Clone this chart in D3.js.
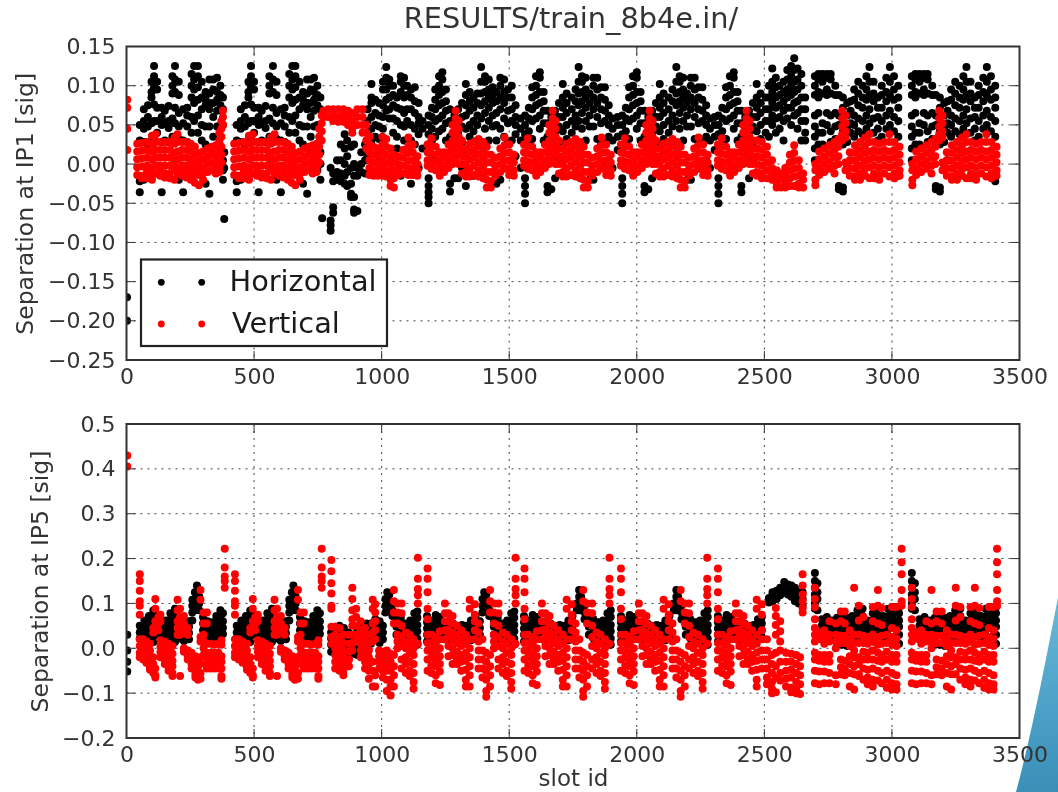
<!DOCTYPE html>
<html>
<head>
<meta charset="utf-8">
<script src="https://cdnjs.cloudflare.com/ajax/libs/d3/7.8.5/d3.min.js"></script>
<style>
html, body { margin: 0; padding: 0; background: #fff; }
svg { display: block; filter: blur(0.6px); }
text { font-family: "DejaVu Sans", sans-serif; fill: #333; }
.grid line { stroke: #444; stroke-width: 1; stroke-dasharray: 2 5; }
.tick-mark { stroke: #333; stroke-width: 1; }
.frame { fill: none; stroke: #333; stroke-width: 2; }
</style>
</head>
<body>
<svg width="1058" height="792"></svg>
<script>
var titleText = "RESULTS/train_8b4e.in/";
var xLabelText = "slot id";
var seriesNames = ["Horizontal", "Vertical"];
var seriesColors = ["#000000", "#ff0000"];

var xTicks = [0, 500, 1000, 1500, 2000, 2500, 3000, 3500];
var ip1Ticks = [0.15, 0.10, 0.05, 0.00, -0.05, -0.10, -0.15, -0.20, -0.25];
var ip5Ticks = [0.5, 0.4, 0.3, 0.2, 0.1, 0.0, -0.1, -0.2];

// each row: slot id, then the separations read at that slot (in 0.001 sig)
var ip1Horizontal = [
  [2,-170,-200],
  [52,50,30,-15,-22,-36],[68,70,55,45,28,-20],[84,75,60,48,25],[98,105,92,85,52,30,-18],[108,125,112,98,76,55,35],[120,105,95,72,55,40],
  [138,60,50,72,28,-36],[150,68,52,30,-15],[165,74,55,46,28],[180,112,100,90,58,35],[190,125,108,92,72,52],[205,105,88,65,48,32,-20],
  [222,70,52,30,-36],[238,62,48,72,28,-10],[255,115,100,85,60,40],[265,125,108,95,78,55],[280,125,112,98,82,62,40],[295,105,85,70,50,30],
  [310,82,92,75,48,25,-25],[325,108,90,78,70,48,20,-38],[340,108,95,78,60,35],[355,110,92,82,68,48,5],[368,100,88,75,50,-5,-8],[378,85,70,50,5,-8,-20],[383,-70,15,-5],
  [432,50,30,-15,-22,-36],[448,70,55,45,28,-20],[464,75,60,48,25],[478,105,92,85,52,30,-18],[488,125,112,98,76,55,35],[500,105,95,72,55,40],
  [518,60,50,72,28,-36],[530,68,52,30,-15],[545,74,55,46,28],[560,112,100,90,58,35],[574,125,108,92,72,52],[588,105,88,65,48,32,-20],
  [605,70,52,30,-36],[620,62,48,72,28,-10],[638,115,100,85,60,40],[650,125,108,95,78,55],[662,125,112,98,82,62,40],[678,105,85,70,50,30],
  [692,82,92,75,48,25,-25],[708,108,90,78,70,48,20,-38],[722,108,95,78,60,35],[735,110,92,82,68,48,5],[748,100,88,75,50,-5,-8],[760,85,70,15,0,-20],
  [767,-69],[800,-85,-78,-72,-5],[810,-55,-62,-12,-22],[825,5,-10,-20],[840,25,5,-12,-22],[855,38,20,0,-15,-25],[865,30,10,-10,-28],[880,22,-5,-25,-38,-42],
  [892,25,0,-15,-42,-58,-62],[905,-5,-15,-60],[920,15,0,-10],[935,25,5,-12],
  [945,70,55,40,25,10],[960,102,85,78,60,45,30],[975,82,65,50,35],[990,78,62,48,32,15],[1005,105,95,75,60,45],[1018,124,110,95,82,68],[1030,108,100,85,70,58],
  [1045,100,88,75,58,40],[1060,85,72,55,35,20],[1075,112,105,92,70,50,-15],[1088,110,100,85,65,48,30],[1100,100,88,70,55,30],[1115,95,85,70,50,30,15,-25],
  [1130,98,80,65,45,25,5],[1145,78,60,52,38,-5],[1160,55,45,20],
  [1184,62,50,38,25,-18,-28,-36,-42,-50],[1197,72,60,45,30,10],[1210,95,82,70,55,35],[1225,112,100,88,75,58,42],[1238,117,108,92,78,62,45],[1252,95,80,68,52,30],
  [1268,70,55,35,-25,-35],[1285,62,50,28,-18],[1300,70,55,40,22,-18],[1315,78,60,48,28,-5],[1330,102,88,75,62,45,18,-28],[1345,92,80,68,50,35],[1360,85,72,55,42,-15],
  [1375,90,78,62,50,30],[1390,124,105,90,75,58],[1405,112,105,92,80,65,45],[1420,108,95,85,72,55,30],[1435,98,88,78,62,48],[1450,92,80,65,50,30,-25],
  [1465,110,100,85,70,45,-20],[1480,108,92,78,58,35],[1495,95,85,68,52,28],[1510,100,85,70,55,30],[1525,75,60,50,38,10],[1545,58,45,30,-5],
  [1562,62,50,38,-18,-28,-38,-50],[1577,72,58,42,28],[1590,98,85,70,55,32],[1605,112,100,88,75,58],[1620,117,110,92,78,62,45],[1635,92,80,68,52,30],
  [1650,68,52,35,-28,-36],[1665,60,48,25,-32],[1680,68,55,40,20,-18],[1695,78,60,48,28,5],[1710,102,85,72,60,42,20],[1725,90,78,65,50,32],[1745,85,70,55,40],
  [1760,95,80,62,48,25],[1772,124,105,90,75,55],[1785,112,105,92,80,65,45],[1800,110,95,85,72,55,30],[1815,90,78,62,48,-20],[1830,110,100,85,70,48,-20],
  [1845,110,95,78,60,32],[1860,98,85,70,52,25],[1875,98,82,68,55,28,-5],[1890,75,62,50,35,5],[1905,58,45,30,-5],[1925,60,50,35,18],
  [1943,62,50,38,-18,-28,-38,-50],[1957,72,58,42,28],[1970,98,85,70,55,32],[1985,112,100,88,75,58],[2000,117,110,92,78,62,45],[2015,92,80,68,52,30],
  [2030,68,52,35,-28,-36],[2045,60,48,25,-32],[2060,68,55,40,20,-18],[2075,78,60,48,28,5],[2090,102,85,72,60,42,20],[2105,90,78,65,50,32],[2125,85,70,55,40],
  [2140,95,80,62,48,25],[2155,124,105,90,75,55],[2168,112,105,92,80,65,45],[2182,110,95,85,72,55,30],[2197,90,78,62,48,-20],[2212,110,100,85,70,48,-20],
  [2227,110,95,78,60,32],[2242,98,85,70,52,25],[2257,98,82,68,55,28,-5],[2272,75,62,50,35,5],[2287,58,45,30,-5],[2305,60,50,35,18],
  [2320,62,50,38,-18,-28,-38,-50],[2335,72,58,42,28],[2350,98,85,70,55,32],[2365,112,100,88,75,58],[2380,117,110,92,78,62,45],[2395,92,80,68,52,30],
  [2410,68,52,35,-28,-36],[2425,60,48,25],[2440,68,55,40,20,-18],[2455,78,60,48,28,5],[2470,102,85,72,60,42,20],[2485,90,78,65,50,32],
  [2505,85,70,55,40],[2518,100,85,70,55,35],[2531,122,105,92,78,62,50],[2545,110,98,85,72,58,40],[2560,100,88,75,60,45],[2575,105,92,80,68,55,30],[2590,120,108,95,85,72,58],
  [2605,125,112,100,88,72,50],[2617,135,120,105,92,78,62],[2630,122,108,95,80,65,45],[2645,115,100,85,70,55,30],[2660,85,70,55,40,30],
  [2698,112,100,88,62,48,35,20,5],[2712,115,108,92,85,65,40,25],[2728,115,105,90,52,40,25,-10],[2745,115,110,95,88,65,50],[2760,115,108,90,62,42,28],[2778,100,88,65,48,32],[2792,88,62,50,28,-28,-32],
  [2808,85,72,42,25,-30,-35],[2825,78,62,45,28,-5],[2838,80,68,52,40,5],[2852,95,82,62,50,35],[2868,105,90,75,58,42],[2885,100,85,72,55,38],[2900,112,95,82,62,45],
  [2912,124,105,88,70,52],[2928,105,90,80,58,40],[2945,85,72,60,45,30],[2960,100,88,72,55,35],[2978,110,92,80,62,45],[2992,124,105,88,68,50],[3008,112,95,82,60,42],[3025,100,85,72,55,35,-15],
  [3078,112,100,88,62,48,35,20,5],[3092,115,108,92,85,65,40,25],[3108,115,105,90,52,40,25,-10],[3125,115,110,95,88,65,50],[3140,115,108,90,62,42,28],[3158,100,88,65,48,32],[3172,88,62,50,28,-28,-32],
  [3188,85,72,42,25,-30,-35],[3205,78,62,45,28,-5],[3218,80,68,52,40,5],[3232,95,82,62,50,35],[3248,105,90,75,58,42],[3265,100,85,72,55,38],[3280,112,95,82,62,45],
  [3292,124,105,88,70,52],[3308,105,90,80,58,40],[3325,85,72,60,45,30],[3340,100,88,72,55,35],[3358,110,92,80,62,45],[3372,124,105,88,68,50],[3388,112,95,82,60,42],[3405,100,85,72,55,35,-22]
];

var ip1Vertical = [
  [3,82,72,45,18],
  [42,26,16,6,-4,-14],[60,27,17,7,-3,-15,-18],[80,28,18,8,-2,-10,-18],[100,36,26,16,6,-4,-12,-20],[115,38,28,18,8,-2,-12],[132,28,18,8,-2,-10,-15],[150,28,18,8,-2,-12,-17],
  [170,28,18,8,-2,-12,-18],[188,34,26,14,4,-6,-20],[200,38,28,16,6,-4,-12],[218,28,18,8,-2,-10,-15],[235,28,18,8,-2,-12,-17],[252,26,16,6,-4,-12,-20],[268,22,12,2,-8,-14,-24],
  [284,14,4,-6,-14,-27],[300,16,6,-4,-12,-20],[318,20,10,0,-10],[335,22,12,2,-8],[350,24,14,4,-6,-12],[364,40,30,26,16,6,-4,-10],[372,55,45,35,22,12,2],[378,68,60,50],
  [422,26,16,6,-4,-14],[440,27,17,7,-3,-15,-18],[460,28,18,8,-2,-10,-18],[480,36,26,16,6,-4,-12,-20],[495,38,28,18,8,-2,-12],[512,28,18,8,-2,-10,-15],[530,28,18,8,-2,-12,-17],
  [550,28,18,8,-2,-12,-18],[566,34,26,14,4,-6,-20],[580,38,28,16,6,-4,-12],[598,28,18,8,-2,-10,-15],[615,28,18,8,-2,-12,-17],[632,26,16,6,-4,-12,-20],[648,22,12,2,-8,-14,-24],
  [662,14,4,-6,-14,-27],[680,16,6,-4,-12,-20],[698,20,10,0,-10],[715,22,12,2,-8],[730,24,14,4,-6,-12],[745,26,16,6,-4,-10],[755,45,35,22,12,2],[765,62,52,42,30],[772,68,60],
  [790,70,60],[810,70,62,55],[830,70,60,54],[850,70,62,54],[868,68,60,50],[885,65,55,45,40],[905,70,60,50],[925,70,60,50,40],[940,50,40,30,20],[952,35,25,15,5,-5,-14],
  [968,22,12,2,-8,-15],[985,20,10,0,-8,-15],[1003,35,25,15,5,-5,-15],[1018,32,22,12,2,-8,-16],[1035,20,10,0,-10,-20,-28],[1048,12,2,-8,-18,-30],[1065,10,0,-8,-14],[1085,18,8,-2,-12],
  [1105,34,24,14,4,-6,-14],[1122,25,15,5,-5,-14],[1140,10,0,-8,-15],
  [1180,25,15,5,-2],[1195,33,23,13,3,-6],[1212,22,12,2,-8],[1228,15,5,-5,-12,-15],[1245,15,8,-2,-10],[1262,25,15,5,-5],[1278,50,40,30,20,10,0],[1290,68,58,48,38,28,18,8],[1302,55,45,35,25,15,0],
  [1315,30,20,10,0,-12],[1330,20,10,0,-10,-16],[1345,26,16,6,-6,-16],[1362,28,18,8,-2,-14],[1380,32,22,12,2,-8,-16],[1398,28,18,8,-2,-12,-18],[1412,22,12,2,-10,-20,-30],[1428,12,2,-10,-22,-30],
  [1445,8,-2,-10,-15],[1465,20,10,0,-10],[1482,34,24,14,4,-6],[1500,25,15,5,-5,-14],[1518,12,2,-8,-15],
  [1558,25,15,5,-2],[1573,33,23,13,3,-6],[1590,22,12,2,-8],[1606,15,5,-5,-12,-15],[1622,15,8,-2,-10],[1640,25,15,5,-5],[1657,50,40,30,20,10,0],[1670,68,58,48,38,28,18,8],[1682,55,45,35,25,15,0],
  [1695,30,20,10,0,-12],[1710,20,10,0,-10,-16],[1725,26,16,6,-6,-16],[1742,28,18,8,-2,-14],[1760,32,22,12,2,-8,-16],[1778,28,18,8,-2,-12,-18],[1792,22,12,2,-10,-20,-30],[1808,12,2,-10,-22,-30],
  [1825,8,-2,-10,-15],[1845,20,10,0,-10],[1862,34,24,14,4,-6],[1880,25,15,5,-5,-14],[1898,12,2,-8,-15],
  [1938,25,15,5,-2],[1953,33,23,13,3,-6],[1970,22,12,2,-8],[1986,15,5,-5,-12,-15],[2002,15,8,-2,-10],[2020,25,15,5,-5],[2037,50,40,30,20,10,0],[2050,68,58,48,38,28,18,8],[2062,55,45,35,25,15,0],
  [2075,30,20,10,0,-12],[2090,20,10,0,-10,-16],[2105,26,16,6,-6,-16],[2122,28,18,8,-2,-14],[2140,32,22,12,2,-8,-16],[2158,28,18,8,-2,-12,-18],[2172,22,12,2,-10,-20,-30],[2188,12,2,-10,-22,-30],
  [2205,8,-2,-10,-15],[2225,20,10,0,-10],[2242,34,24,14,4,-6],[2260,25,15,5,-5,-14],[2278,12,2,-8,-15],
  [2318,25,15,5,-2],[2333,33,23,13,3,-6],[2350,22,12,2,-8],[2366,15,5,-5,-12,-15],[2382,15,8,-2,-10],[2400,25,15,5,-5],[2417,50,40,30,20,10,0],[2430,68,58,48,38,28,18,8],[2442,55,45,35,25,15,0],
  [2455,30,20,10,0,-12],[2470,30,20,10,0,-10,-15],[2490,28,18,8,-2,-12,-18],[2510,22,12,2,-8,-18],[2530,5,-5,-15,-20],[2548,-8,-16,-24,-30],[2565,-12,-20,-30],[2582,-5,-14,-22,-30],[2600,12,2,-8,-18,-28],
  [2617,24,14,4,-6,-16,-28],[2635,5,-5,-15,-25,-30],[2652,-12,-20,-30],
  [2700,0,-8,-20,-27],[2715,16,6,-4,-14],[2735,20,10,0,-10],[2755,24,14,4,-6],[2775,28,18,8,-2,-12],[2790,32,22,10,0],[2805,68,58,48,38,30],[2818,62,52,42,34,2,-8],[2835,15,5,-5,-15],
  [2855,24,14,4,-6,-16,-20],[2875,28,18,8,-2,-12,-20],[2895,34,24,14,4,-6,-15],[2912,38,28,16,6,-4,-18],[2930,28,18,8,-2,-12,-18],[2950,26,16,6,-4,-14,-20],[2970,28,18,8,-2,-12],
  [2990,38,28,16,6,-4,-16],[3010,28,18,8,-2,-12,-18],[3030,22,12,2,-8,-15],
  [3080,0,-8,-20,-27],[3095,16,6,-4,-14],[3115,20,10,0,-10],[3135,24,14,4,-6],[3155,28,18,8,-2,-12],[3170,32,22,10,0],[3185,68,58,48,38,30],[3198,62,52,42,34,2,-8],[3215,15,5,-5,-15],
  [3235,24,14,4,-6,-16,-20],[3255,28,18,8,-2,-12,-20],[3275,34,24,14,4,-6,-15],[3292,38,28,16,6,-4,-18],[3310,28,18,8,-2,-12,-18],[3330,26,16,6,-4,-14,-20],[3350,28,18,8,-2,-12],
  [3370,38,28,16,6,-4,-16],[3390,28,18,8,-2,-12,-18],[3410,22,12,2,-8,-15]
];

var ip5Horizontal = [
  [3,30,-5,-30,-52],
  [52,50,35,22],[70,62,48,34,20],[88,72,58,44,30,16],[105,84,70,56,42,28,14],[120,72,58,44,30],[138,45,30,16],[155,62,48,34,20],[172,78,64,50,36,22],[190,88,74,60,46,30,14],[208,65,50,36,22],[225,58,44,30,16],
  [245,60,48,34,20],[258,108,95,80,62],[268,125,110,95,85],[276,140,125,108,92],[285,115,100,85],[300,70,55,40,25],[318,60,45,30,18],[335,58,42,28,18],[352,72,60,46,32,18],[368,85,72,58,44,30,18],[378,78,60,46,32],
  [432,50,35,22],[450,62,48,34,20],[468,72,58,44,30,16],[485,84,70,56,42,28,14],[500,72,58,44,30],[518,45,30,16],[535,62,48,34,20],[552,78,64,50,36,22],[570,88,74,60,46,30,14],[588,65,50,36,22],[605,58,44,30,16],
  [625,60,48,34,20],[638,108,95,80,62],[648,125,110,95,85],[654,140,125,108,92],[663,115,100,85],[680,70,55,40,25],[698,60,45,30,18],[715,58,42,28,18],[732,72,60,46,32,18],[748,85,72,58,44,30,18],[758,78,60,46,32],
  [802,35,22,8,-8],[818,48,34,18,5,-10],[835,50,35,20,5,-12],[852,45,30,15,0,-15],[870,35,20,5,-12],[888,30,15,0,-12],[905,40,25,10,-5,-15],[922,50,35,20,5,-8],[940,55,40,25,10],[958,55,40,25,10],[975,65,50,35,20],[992,60,45,30,12],
  [1005,50,35,20],[1015,110,95,80],[1022,125,110,95],[1030,120,105,90],[1042,100,85,72],[1058,78,62,48,30],[1075,68,52,38,22],[1095,55,40,25,12],[1112,62,48,34,18],[1128,78,62,48,30,15],[1140,82,68,52,38,22,8],
  [1178,72,58,44,30,15],[1195,62,48,34,18],[1212,74,60,46,32,15],[1228,70,55,40,25],[1245,50,35,20],[1262,60,45,30,18],[1280,55,40,25],[1298,50,35,20],[1315,52,38,22],[1332,50,35,20],[1350,62,48,34,18],[1368,72,58,42,25],[1385,60,45,30],
  [1395,110,95,80],[1402,125,110,95],[1410,120,105,90],[1422,100,85,72],[1440,78,62,48,30],[1455,68,52,38,22],[1475,55,40,25,12],[1492,62,48,34,18],[1508,78,62,48,30,15],[1520,82,68,52,38,22,8],
  [1558,72,58,44,30,15],[1575,62,48,34,18],[1592,74,60,46,32,15],[1610,70,55,40,25],[1628,50,35,20],[1645,60,45,30,18],[1662,55,40,25],[1680,50,35,20],[1698,52,38,22],[1715,50,35,20],[1732,62,48,34,18],[1748,72,58,42,25],
  [1765,100,85],[1774,130,115,100,85],[1782,115,100,88],[1795,95,80,65],[1812,78,62,48,30],[1830,65,50,35,22],[1850,58,42,28,12],[1868,62,48,34,18],[1885,78,62,48,30,15],[1898,85,70,52,38,22,8],
  [1938,72,58,44,30,15],[1955,62,48,34,18],[1972,74,60,46,32,15],[1990,70,55,40,25],[2008,50,35,20],[2025,60,45,30,18],[2042,55,40,25],[2060,50,35,20],[2078,52,38,22],[2095,50,35,20],[2112,62,48,34,18],[2128,72,58,42,25],
  [2145,100,85],[2155,130,115,100,85],[2162,115,100,88],[2175,95,80,65],[2192,78,62,48,30],[2210,65,50,35,22],[2230,58,42,28,12],[2248,62,48,34,18],[2265,78,62,48,30,15],[2278,85,70,52,38,22,8],
  [2318,72,58,44,30,15],[2335,62,48,34,18],[2352,74,60,46,32,15],[2370,70,55,40,25],[2388,50,35,20],[2405,60,45,30,18],[2422,55,40,25],[2440,50,35,20],[2458,52,38,22],[2475,65,50,35,20],[2490,70,55,40,25],
  [2518,102,112],[2532,105,118,125],[2548,118,128,110],[2562,125,135,118],[2578,135,148,125],[2592,130,142,120],[2606,125,140,115],[2620,118,135,105],[2635,110,125,100],[2650,125,110,95],
  [2698,168,150,135,120,100,88],[2708,145,125,110,85],[2725,65,50,35,20],[2745,70,55,42,30],[2765,62,48,34,20],[2785,68,52,38,22,8],[2805,75,60,46,30,8],[2825,68,52,38,25,5],[2845,72,58,42,28],[2865,85,70,55,40,25],
  [2885,88,72,58,42,28],[2905,62,48,34,18],[2925,78,62,48,32,15],[2945,92,75,60,45,28],[2965,72,55,40,25],[2985,88,72,58,42,25],[3005,92,75,60,45,25],[3028,92,78,62,48,30,10],
  [3078,168,150,135,120,100,88],[3090,145,125,110,85],[3108,65,50,35,20],[3128,70,55,42,30],[3148,62,48,34,20],[3168,68,52,38,22,8],[3188,75,60,46,30,8],[3208,68,52,38,25,5],[3228,72,58,42,28],[3248,85,70,55,40,25],
  [3268,88,72,58,42,28],[3288,62,48,34,18],[3308,78,62,48,32,15],[3328,92,75,60,45,28],[3348,72,55,40,25],[3368,88,72,58,42,25],[3388,92,75,60,45,25],[3408,92,78,62,48,30,10]
];

var ip5Vertical = [
  [3,430,405],
  [52,165,150,128,105,95,75,20,5,-10,-20],[65,20,8,-5,-18,-25],[78,15,0,-12,-25,-32],[92,10,-5,-18,-30,-42,-48],[105,45,35,-20,-35,-50,-55],[113,110,88,60,45,-45,-60,-65],[125,70,55,40],
  [133,75,60,18,5,-8,-20],[150,15,2,-12,-25,-35],[165,10,-5,-20,-30,-42,-50],[180,5,-12,-28,-40,-55,-62],[200,108,85,60,45,30],[210,88,70,55,30,-62],[225,72,55,40,0,-8],[240,45,30,-5,-18,-25],
  [255,-10,-22,-35,-45],[270,-18,-30,-45,-58,-65],[280,-25,-35,-48,-60,-70],[290,130,108,25,15,-20,-35,-55,-68],[302,80,55,30,15,0,-15],[315,80,55,10,-10,-22,-35,-45],[330,10,-10,-22,-35,-45],
  [345,8,-10,-22,-35,-45],[360,10,-10,-22,-35,-45],[372,18,8,-18,-30,-45,-62,-68],[385,222,180,160,150,135],
  [425,165,150,128,105,95,75,20,5,-10,-20],[440,20,8,-5,-18,-25],[455,15,0,-12,-25,-32],[472,10,-5,-18,-30,-42,-48],[485,45,35,-20,-35,-50,-55],[495,110,88,60,45,-45,-60,-65],[505,70,55,40],
  [515,75,60,18,5,-8,-20],[530,15,2,-12,-25,-35],[545,10,-5,-20,-30,-42,-50],[562,5,-12,-28,-40,-55,-62],[580,108,85,60,45,30],[590,88,70,55,30,-62],[605,72,55,40,0,-8],[620,45,30,-5,-18,-25],
  [635,-10,-22,-35,-45],[650,-18,-30,-45,-58,-65],[660,-25,-35,-48,-60,-70],[672,130,108,25,15,-20,-35,-55,-68],[682,80,55,30,15,0,-15],[695,80,55,10,-10,-22,-35,-45],[710,10,-10,-22,-35,-45],
  [725,8,-10,-22,-35,-45],[740,10,-10,-22,-35,-45],[752,18,8,-18,-30,-45,-62,-68],[765,222,180,160,150,135],
  [803,197,172,145,122,95,88,48,25,10],[818,48,30,15,0,-15,-30,-45],[835,45,25,10,-5,-20,-35,-50],[850,30,12,-5,-20,-35,-50,-60],[872,30,10,-8,-25,-40],[885,135,110,85,65,50,30,12,-5],[900,88,70,50,30,15],[918,60,42,25,10,-5,-20],
  [935,45,30,15,0,-15,-30,-45],[950,30,12,-5,-20,-35,-50,-68],[965,108,88,55,35,15,-30,-50,-85],[975,98,80,60,40,20,-60,-85],[990,-5,-18,-30,-45],[1005,-8,-22,-35,-50,-65],[1020,-5,-20,-35,-50,-70,-95],[1035,-12,-30,-50,-70,-85,-105],
  [1048,130,105,80,55,-15,-40,-60,-85],[1062,100,80,55,30,15,0],[1078,100,78,50,25,5,-25,-45],[1095,35,15,0,-20,-35,-55],[1110,30,10,-10,-30,-50,-62],[1125,20,0,-15,-35,-55,-75,-90],
  [1142,202,155,132,118,100,10],[1180,178,155,125,88,65,30,12,-5,-25,-50],[1195,30,12,-5,-20,-38,-55],[1212,25,8,-10,-25,-40,-60,-78],[1228,38,20,0,-18,-35,-52,-82],[1248,100,78,60,40,20],[1262,78,60,42,25,5,-18],
  [1278,72,55,35,18,0,-15,-35],[1295,50,30,12,-8,-25,-35],[1312,40,20,5,-15,-30,-50],[1330,30,10,-10,-28,-48,-70,-85],[1345,108,88,20,0,-20,-40,-60,-85],[1365,98,75,60,40,20],[1380,55,35,15,-5,-25,-45],
  [1395,20,-5,-25,-45,-65],[1410,-10,-30,-50,-70,-95,-108],[1425,130,105,80,-15,-40,-60,-85],[1440,100,80,55,30,15,0],[1458,100,78,50,25,5,-25,-45],[1475,35,15,0,-20,-35,-55],[1490,30,10,-10,-30,-50,-62],[1508,20,0,-15,-35,-55,-75,-90],
  [1525,202,155,132,118,100,10],[1560,178,155,125,88,65,30,12,-5,-25,-50],[1575,30,12,-5,-20,-38,-55],[1592,25,8,-10,-25,-40,-60,-78],[1608,38,20,0,-18,-35,-52,-82],[1628,100,78,60,40,20],[1642,78,60,42,25,5,-18],
  [1658,72,55,35,18,0,-15,-35],[1675,50,30,12,-8,-25,-35],[1692,40,20,5,-15,-30,-50],[1710,30,10,-10,-28,-48,-70,-85],[1725,108,88,20,0,-20,-40,-60,-85],[1745,98,75,60,40,20],[1760,55,35,15,-5,-25,-45],
  [1775,20,-5,-25,-45,-65],[1790,130,105,-10,-30,-50,-70,-95,-108],[1805,100,80,55,-15,-40,-60,-85],[1825,100,78,50,25,5,-25,-45],[1842,35,15,0,-20,-35,-55],[1858,30,10,-10,-30,-50,-62],[1875,20,0,-15,-35,-55,-75,-90],
  [1893,202,155,132,118,100,10],[1938,178,155,125,88,65,30,12,-5,-25,-50],[1955,30,12,-5,-20,-38,-55],[1972,25,8,-10,-25,-40,-60,-78],[1988,38,20,0,-18,-35,-52,-82],[2008,100,78,60,40,20],[2022,78,60,42,25,5,-18],
  [2038,72,55,35,18,0,-15,-35],[2055,50,30,12,-8,-25,-35],[2072,40,20,5,-15,-30,-50],[2090,30,10,-10,-28,-48,-70,-85],[2105,108,88,20,0,-20,-40,-60,-85],[2125,98,75,60,40,20],[2140,55,35,15,-5,-25,-45],
  [2155,20,-5,-25,-45,-65],[2172,130,105,-10,-30,-50,-70,-95,-108],[2188,100,80,55,-15,-40,-60,-85],[2205,100,78,50,25,5,-25,-45],[2222,35,15,0,-20,-35,-55],[2240,30,10,-10,-30,-50,-62],[2258,20,0,-15,-35,-55,-75,-90],
  [2276,202,155,132,118,100,10],[2318,178,155,125,88,65,30,12,-5,-25,-50],[2335,30,12,-5,-20,-38,-55],[2352,25,8,-10,-25,-40,-60,-78],[2368,38,20,0,-18,-35,-52,-82],[2388,100,78,60,40,20],[2402,78,60,42,25,5,-18],
  [2418,72,55,35,18,0,-15,-35],[2435,50,30,12,-8,-25,-35],[2452,40,20,5,-15,-30,-50],[2470,108,88,30,10,-10,-28,-48,-70,-85],[2490,98,75,40,20,-5,-25,-45],[2510,20,-5,-25,-45,-65,-80],[2530,-15,-35,-55,-75,-90,-100],
  [2545,90,72,52,30,-10,-40,-65,-98],[2562,60,38,15,-5,-30,-55,-72],[2585,-10,-30,-50,-68,-85],[2605,-12,-30,-48,-65,-88,-98],[2625,-15,-35,-55,-75,-92,-100],[2640,-20,-40,-60,-80,-102],[2650,165,140,120,105,90,80],
  [2698,135,110,92,65,45,30,15,-10,-25,-50,-78],[2715,35,22,-15,-28,-52,-80],[2735,40,25,10,-15,-30,-52,-78],[2755,60,30,15,-15,-30,-55,-78],[2780,55,30,15,0,-60,-80],[2800,82,60,28,12,-25,-42,-58],[2815,82,55,28,12,-28,-45,-60],
  [2835,40,22,5,-18,-35,-55,-85],[2852,135,30,12,-5,-20,-40,-58,-92],[2870,95,62,30,12,-20,-35,-58,-62],[2888,70,28,12,-8,-25,-45,-70],[2905,25,10,-10,-25,-48,-65,-80],[2925,92,60,30,15,-5,-25,-45,-70,-85],
  [2945,130,95,55,25,8,-10,-28,-50,-72],[2960,90,52,28,10,-15,-30,-55,-78],[2980,30,12,-8,-25,-50,-70,-88],[3000,92,45,25,8,-15,-30,-55,-78,-92],[3018,92,40,22,5,-15,-30,-60,-80,-92],[3038,222,192,165,130,105,95],
  [3078,135,110,92,65,45,30,15,-10,-25,-50,-78],[3095,35,22,-15,-28,-52,-80],[3115,40,25,10,-15,-30,-52,-78],[3135,60,30,15,-15,-30,-55,-78],[3155,130,55,30,15,0,-60,-80],[3175,82,60,28,12,-25,-42,-58],[3195,82,55,28,12,-28,-45,-60],
  [3215,40,22,5,-18,-35,-55,-85],[3232,30,12,-5,-20,-40,-58,-92],[3250,135,95,62,30,12,-20,-35,-58],[3268,92,70,28,12,-8,-25,-45,-70],[3288,25,10,-10,-25,-48,-65,-80],[3308,92,60,30,15,-5,-25,-45,-70,-85],
  [3325,135,95,55,25,8,-10,-28,-50,-72],[3342,90,52,28,10,-15,-30,-55,-78],[3362,30,12,-8,-25,-50,-70,-88],[3380,92,45,25,8,-15,-30,-55,-78,-92],[3398,92,40,22,5,-15,-30,-60,-80,-92],[3412,222,192,165,130,105,95]
];

// rows -> flat list of points
var flatten = function(rows) {
  var points = [];
  rows.forEach(function(row) {
    for (var i = 1; i < row.length; i++) {
      points.push({slot: row[0], sep: row[i] / 1000});
    }
  });
  return points;
};

var svg = d3.select("svg");

var defs = svg.append("defs");
var grad = defs.append("linearGradient").attr("id", "cornerFill")
    .attr("x1", "0").attr("y1", "0").attr("x2", "0").attr("y2", "1");
grad.append("stop").attr("offset", "0").attr("stop-color", "#6cb9d6");
grad.append("stop").attr("offset", "0.5").attr("stop-color", "#4ea4c9");
grad.append("stop").attr("offset", "1").attr("stop-color", "#3a8fb8");

// slide template corner behind the figure
svg.append("path")
    .attr("d", "M1058,597 C1045,665 1032,732 1016,792 L1058,792 Z")
    .attr("fill", "url(#cornerFill)");

var left = 126.5, right = 1019.5;

var x = d3.scaleLinear().domain([0, 3500]).range([left, right]);

var drawPanel = function(top, bottom, domain, yTicks, yFormat, yLabel, labelX, rowsH, rowsV) {
  var y = d3.scaleLinear().domain(domain).range([bottom, top]);
  var g = svg.append("g");

  var clipId = "clip" + top;
  defs.append("clipPath").attr("id", clipId).append("rect")
      .attr("x", left).attr("y", top).attr("width", right - left).attr("height", bottom - top);

  // grid
  var grid = g.append("g").attr("class", "grid");
  grid.selectAll(".gx").data(xTicks.slice(1, -1)).enter().append("line")
      .attr("x1", function(d) { return x(d); }).attr("x2", function(d) { return x(d); })
      .attr("y1", top).attr("y2", bottom);
  grid.selectAll(".gy").data(yTicks.slice(1, -1)).enter().append("line")
      .attr("y1", function(d) { return y(d); }).attr("y2", function(d) { return y(d); })
      .attr("x1", left).attr("x2", right);

  // points, vertical goes over horizontal
  var marks = g.append("g").attr("clip-path", "url(#" + clipId + ")");
  [rowsH, rowsV].forEach(function(rows, k) {
    marks.append("g").selectAll("circle")
        .data(flatten(rows))
        .enter().append("circle")
        .attr("cx", function(d) { return x(d.slot); })
        .attr("cy", function(d) { return y(d.sep); })
        .attr("r", 4)
        .attr("fill", seriesColors[k]);
  });

  // axes
  var xAxis = g.append("g").attr("transform", "translate(0," + bottom + ")")
      .call(d3.axisBottom(x).tickValues(xTicks).tickFormat(d3.format("d")).tickSize(0).tickPadding(8));
  var yAxis = g.append("g").attr("transform", "translate(" + left + ",0)")
      .call(d3.axisLeft(y).tickValues(yTicks).tickFormat(yFormat).tickSize(0).tickPadding(11));
  [xAxis, yAxis].forEach(function(a) {
    a.select(".domain").remove();
    a.selectAll("text").style("font-family", '"DejaVu Sans", sans-serif').style("font-size", "22px").attr("fill", "#333");
  });

  // matplotlib style inward ticks on all four sides
  var ticks = g.append("g");
  xTicks.forEach(function(t) {
    ticks.append("line").attr("class", "tick-mark").attr("x1", x(t)).attr("x2", x(t)).attr("y1", bottom).attr("y2", bottom - 9);
    ticks.append("line").attr("class", "tick-mark").attr("x1", x(t)).attr("x2", x(t)).attr("y1", top).attr("y2", top + 9);
  });
  yTicks.forEach(function(t) {
    ticks.append("line").attr("class", "tick-mark").attr("x1", left).attr("x2", left + 9).attr("y1", y(t)).attr("y2", y(t));
    ticks.append("line").attr("class", "tick-mark").attr("x1", right).attr("x2", right - 9).attr("y1", y(t)).attr("y2", y(t));
  });

  g.append("rect").attr("class", "frame")
      .attr("x", left).attr("y", top).attr("width", right - left).attr("height", bottom - top);

  g.append("text")
      .attr("transform", "translate(" + labelX + "," + ((top + bottom) / 2 + 0.5) + ") rotate(-90)")
      .attr("text-anchor", "middle")
      .style("font-size", "23.5px")
      .text(yLabel);

  return y;
};

var minusFormat = function(f) {
  return function(d) { return f(d).replace("-", "\u2212"); };
};

drawPanel(46.5, 360, [-0.25, 0.15], ip1Ticks, minusFormat(d3.format(".2f")), "Separation at IP1 [sig]", 33, ip1Horizontal, ip1Vertical);
drawPanel(424, 738, [-0.2, 0.5], ip5Ticks, minusFormat(d3.format(".1f")), "Separation at IP5 [sig]", 48, ip5Horizontal, ip5Vertical);

svg.append("text")
    .attr("x", 571).attr("y", 28)
    .attr("text-anchor", "middle")
    .style("font-size", "28.8px")
    .text(titleText);

svg.append("text")
    .attr("x", 573.5).attr("y", 786)
    .attr("text-anchor", "middle")
    .style("font-size", "23px")
    .text(xLabelText);

// legend
var legend = svg.append("g");
legend.append("rect")
    .attr("x", 141).attr("y", 259.5).attr("width", 246).attr("height", 86.5)
    .attr("fill", "#fff").attr("stroke", "#222").attr("stroke-width", 2.2);
seriesNames.forEach(function(name, i) {
  var rowY = 282.3 + i * 41.7;
  [161.3, 201.7].forEach(function(cx) {
    legend.append("circle").attr("cx", cx).attr("cy", rowY).attr("r", 3.4).attr("fill", seriesColors[i]);
  });
  legend.append("text")
      .attr("x", i === 0 ? 229.5 : 232).attr("y", rowY + 9)
      .style("font-size", "28.8px")
      .style("fill", "#1a1a1a")
      .text(name);
});
</script>
</body>
</html>
